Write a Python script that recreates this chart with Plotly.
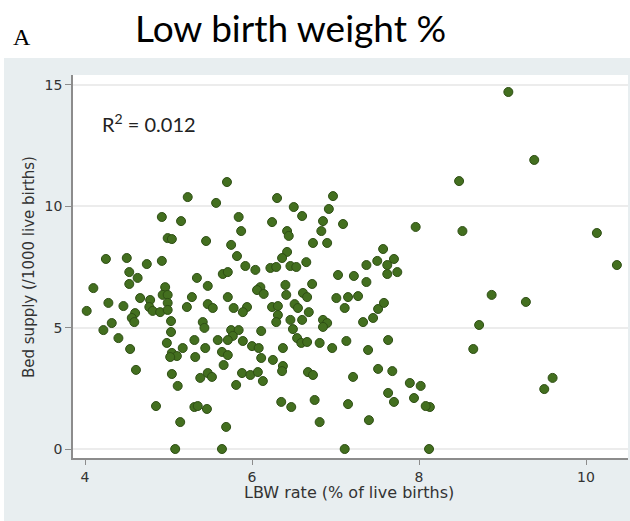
import plotly.graph_objects as go

# LBW rate (% of live births)
lbw_rate = [
    9.07, 9.38, 8.48, 8.52, 10.13, 10.37, 8.87, 9.28, 8.72, 8.65, 9.60, 9.50, 8.13, 8.12,
    7.11, 7.51, 7.58, 6.85, 6.90, 6.85, 7.33, 7.45, 6.81, 6.96, 7.13, 7.39, 7.63, 7.21,
    7.51, 7.68, 7.89, 8.02, 7.63, 7.70, 7.94, 8.08, 6.75, 7.15, 6.81, 7.40, 7.11, 6.67,
    6.73, 6.68, 6.60, 6.54, 6.59, 6.66,
    6.97, 6.92, 6.85, 7.09, 6.83, 7.96, 6.73, 6.90, 7.57, 7.70, 7.50, 7.37, 7.62, 7.62,
    7.74, 7.03, 7.22, 7.37, 6.72, 7.01, 7.15, 7.27, 6.61, 6.66,
    5.70, 5.57, 6.30, 6.50, 6.60, 5.84, 6.24, 5.87, 6.42, 6.44, 5.45, 5.75, 5.82, 6.42,
    6.36, 6.65, 5.92, 6.04, 6.22, 6.29, 6.46, 6.53, 5.65, 5.71, 5.34, 5.47, 6.10, 6.06,
    6.14, 6.40, 5.71, 6.41, 5.47, 5.53, 5.78, 5.94, 6.24, 6.31, 6.51, 6.55,
    5.23, 4.92, 5.15, 4.99, 5.04, 4.25, 4.50, 4.74, 4.92, 4.53, 4.63, 4.53, 4.10, 4.96,
    4.93, 4.99, 4.28, 4.46, 4.66, 4.78, 4.77, 4.99, 5.22, 5.28, 4.02,
    4.60, 4.56, 4.59, 4.81, 4.90, 4.32, 4.22, 4.40, 4.54, 5.03, 5.03, 4.98, 5.31, 5.04,
    5.10, 5.17, 5.02, 5.32, 4.61, 5.04, 5.11, 4.85, 5.14, 5.08, 5.31, 4.99,
    6.31, 5.41, 5.43, 6.29, 6.46, 6.49, 5.75, 5.84, 5.77, 6.11, 5.59, 5.71, 5.89, 5.44,
    5.64, 5.71, 6.00, 6.08, 6.37, 6.11, 6.25, 5.66, 6.37, 6.36, 5.88, 5.98, 6.07, 6.13,
    5.38, 5.47, 5.52, 5.81, 6.35, 6.47, 5.35, 5.46, 5.69, 5.64, 5.89,
]

# Bed supply (/1000 live births)
bed_supply = [
    14.71, 11.91, 11.04, 8.98, 8.90, 7.58, 6.35, 6.06, 5.11, 4.12, 2.93, 2.47, 1.73, 0.00,
    5.81, 5.77, 6.02, 5.32, 5.19, 5.03, 5.23, 5.40, 4.37, 4.16, 4.45, 4.08, 4.49, 2.97,
    3.30, 3.21, 2.72, 2.60, 2.31, 1.94, 2.10, 1.77, 2.02, 1.85, 1.11, 1.19, 0.00, 3.17,
    3.05, 5.64, 5.32, 4.57, 4.37, 4.41,
    10.42, 9.89, 9.39, 9.27, 8.98, 9.15, 8.49, 8.49, 8.24, 7.83, 7.75, 7.58, 7.58, 7.21,
    7.29, 7.17, 7.13, 6.88, 6.80, 6.22, 6.26, 6.30, 6.43, 6.26,
    11.00, 10.14, 10.34, 9.97, 9.60, 9.56, 9.35, 8.98, 8.98, 8.78, 8.57, 8.41, 7.95, 8.12,
    7.87, 7.70, 7.54, 7.38, 7.46, 7.50, 7.54, 7.50, 7.21, 7.29, 7.05, 6.72, 6.67, 6.55,
    6.39, 6.76, 6.26, 6.35, 5.97, 5.81, 5.81, 5.85, 5.85, 5.89, 5.97, 5.81,
    10.38, 9.56, 9.39, 8.69, 8.65, 7.83, 7.87, 7.62, 7.75, 7.29, 7.05, 6.80, 6.63, 6.67,
    6.35, 6.35, 6.02, 5.89, 6.22, 6.14, 5.85, 6.02, 5.85, 6.26, 5.69,
    5.60, 5.40, 5.23, 5.69, 5.64, 5.19, 4.90, 4.57, 4.12, 5.27, 4.82, 4.37, 4.49, 3.96,
    3.83, 4.16, 3.79, 3.79, 3.26, 3.09, 2.60, 1.77, 1.11, 0.00, 1.73, 5.73,
    5.52, 5.23, 4.99, 5.23, 5.32, 4.94, 4.90, 4.90, 4.66, 4.86, 4.49, 4.49, 4.45, 4.16,
    4.00, 3.87, 4.24, 4.16, 4.16, 3.75, 3.67, 3.46, 3.42, 3.21, 3.13, 3.05, 3.17, 2.80,
    2.93, 3.13, 2.97, 2.64, 1.94, 1.73, 1.77, 1.65, 0.91, 0.00, 5.64,
]

x_ticks = [4, 6, 8, 10]
y_ticks = [0, 5, 10, 15]
chart_title = "Low birth weight %"
panel_label = "A"
r2_text = "R<sup>2</sup> = 0.012"
x_title = "LBW rate (% of live births)"
y_title = "Bed supply (/1000 live births)"

W, H = 630, 521
ML, MR, MT, MB = 73, 2, 75, 63
PW, PH = W - ML - MR, H - MT - MB


def pxx(x):
    return (x - ML) / PW


def pxy(y):
    return (H - MB - y) / PH


grey = "#e8eef0"
text_col = "#333333"

fig = go.Figure()
fig.add_trace(go.Scatter(
    x=lbw_rate, y=bed_supply, mode="markers",
    marker=dict(size=9, color="#436f1f", line=dict(width=1, color="#2f4f15")),
    showlegend=False, hoverinfo="skip",
))

fig.update_layout(
    width=W, height=H,
    margin=dict(l=ML, r=MR, t=MT, b=MB),
    paper_bgcolor=grey,
    plot_bgcolor="white",
    xaxis=dict(
        range=[3.856, 10.503], tickvals=x_ticks, showgrid=False, zeroline=False,
        showline=True, linecolor="#8c8c8c", linewidth=1.5,
        ticks="outside", ticklen=5, tickcolor="#8c8c8c", tickwidth=1,
        tickfont=dict(family="DejaVu Sans", size=14, color=text_col),
    ),
    yaxis=dict(
        range=[-0.37, 15.41], tickvals=y_ticks, showgrid=True, gridcolor="#ececec",
        gridwidth=1.5, zeroline=False,
        showline=True, linecolor="#8c8c8c", linewidth=1.5,
        ticks="outside", ticklen=6, tickcolor="#8c8c8c", tickwidth=1,
        tickfont=dict(family="DejaVu Sans", size=14, color=text_col),
    ),
    shapes=[
        dict(type="rect", xref="paper", yref="paper", layer="below",
             x0=pxx(-5), x1=pxx(W + 5), y0=pxy(58), y1=pxy(-5),
             fillcolor="white", line=dict(width=0)),
        dict(type="rect", xref="paper", yref="paper", layer="below",
             x0=pxx(-5), x1=pxx(4), y0=pxy(H + 5), y1=pxy(58),
             fillcolor="white", line=dict(width=0)),
    ],
    annotations=[
        dict(text=chart_title, xref="paper", yref="paper", x=pxx(290), y=pxy(27),
             xanchor="center", yanchor="middle", showarrow=False,
             font=dict(family="Lato", size=37, color="black")),
        dict(text=panel_label, xref="paper", yref="paper", x=pxx(22), y=pxy(37),
             xanchor="center", yanchor="middle", showarrow=False,
             font=dict(family="Liberation Serif", size=24, color="black")),
        dict(text=r2_text, xref="paper", yref="paper", x=pxx(100), y=pxy(123),
             xanchor="left", yanchor="middle", showarrow=False,
             font=dict(family="Lato", size=20, color="#222222")),
        dict(text=x_title, xref="paper", yref="paper", x=pxx(349), y=pxy(492),
             xanchor="center", yanchor="middle", showarrow=False,
             font=dict(family="DejaVu Sans", size=16, color=text_col)),
        dict(text=y_title, xref="paper", yref="paper", x=pxx(29), y=pxy(267),
             xanchor="center", yanchor="middle", showarrow=False, textangle=-90,
             font=dict(family="DejaVu Sans", size=15, color=text_col)),
    ],
)

fig.write_html("out.html")
